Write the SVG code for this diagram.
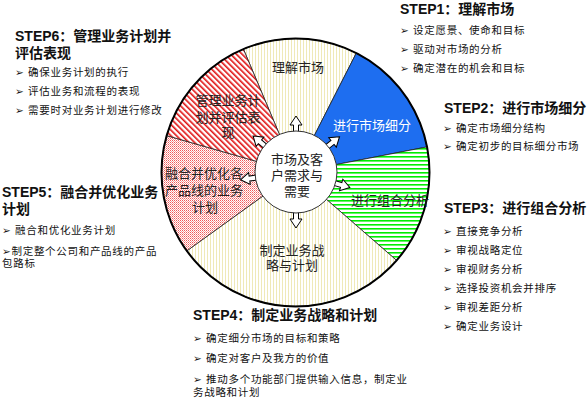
<svg xmlns="http://www.w3.org/2000/svg" width="587" height="401" viewBox="0 0 587 401">
<style>
text{font-family:"Liberation Sans","DejaVu Sans","Noto Sans CJK SC",sans-serif;fill:#111}
.h{font-size:14px;font-weight:bold}
.b{font-size:10.5px;letter-spacing:0.7px}
.s{font-size:13px;text-anchor:middle;fill:#222}
.c{font-size:13px;text-anchor:middle;fill:#222}
.sec{stroke:#222;stroke-width:0.8}
.arr{fill:#fff;stroke:#000;stroke-width:1}
</style>
<defs>
<pattern id="cream" width="3" height="3" patternUnits="userSpaceOnUse"><rect width="3" height="3" fill="#fff"/><rect width="1" height="3" fill="#efe9b8"/></pattern>
<pattern id="green" width="4" height="4" patternUnits="userSpaceOnUse"><rect width="4" height="4" fill="#fff"/><rect width="4" height="1.6" fill="#00ee00"/></pattern>
<pattern id="diag" width="4" height="4" patternUnits="userSpaceOnUse" patternTransform="rotate(-45)"><rect width="4" height="4" fill="#fff"/><rect width="1.6" height="4" fill="#e01010"/></pattern>
<pattern id="check" width="2" height="2" patternUnits="userSpaceOnUse"><rect width="2" height="2" fill="#fff"/><rect width="1" height="1" fill="#f05a5a"/><rect x="1" y="1" width="1" height="1" fill="#f7a0a0"/></pattern>
<polygon id="ar" points="30,-2.5 47,-2.5 47,-6 56,0 47,6 47,2.5 30,2.5"/>
</defs>
<g id="wheel">
<path class="sec" fill="url(#cream)" d="M295.5,172.5 L243.4,49.1 A134,134 0 0 1 356.3,53.1 Z"/>
<path class="sec" fill="#1e6ef0" d="M295.5,172.5 L356.3,53.1 A134,134 0 0 1 427,146.9 Z"/>
<path class="sec" fill="url(#green)" d="M295.5,172.5 L427,146.9 A134,134 0 0 1 396.6,260.4 Z"/>
<path class="sec" fill="url(#cream)" d="M295.5,172.5 L396.6,260.4 A134,134 0 0 1 186.8,250.9 Z"/>
<path class="sec" fill="url(#check)" d="M295.5,172.5 L186.8,250.9 A134,134 0 0 1 166.7,135.6 Z"/>
<path class="sec" fill="url(#diag)" d="M295.5,172.5 L166.7,135.6 A134,134 0 0 1 243.4,49.1 Z"/>
<circle cx="295.5" cy="172.5" r="134" fill="none" stroke="#000" stroke-width="2"/>
</g>
<g id="connectors">
<use href="#ar" class="arr" transform="translate(296,172) rotate(-90)"/>
<use href="#ar" class="arr" transform="translate(296,172) rotate(-39)"/>
<use href="#ar" class="arr" transform="translate(296,172) rotate(16)"/>
<use href="#ar" class="arr" transform="translate(296,172) rotate(90)"/>
<use href="#ar" class="arr" transform="translate(296,172) rotate(172)"/>
<use href="#ar" class="arr" transform="translate(296,172) rotate(-140)"/>
</g>
<g id="hub">
<circle cx="296" cy="172" r="41" fill="#fff" stroke="#333" stroke-width="1"/>
<text class="c" x="297" y="164">市场及客</text>
<text class="c" x="297" y="180">户需求与</text>
<text class="c" x="297" y="196">需要</text>
</g>
<g id="seg1"><text class="s" x="298" y="72">理解市场</text></g>
<g id="seg2"><text class="s" x="372" y="130" style="fill:#fff">进行市场细分</text></g>
<g id="seg3"><text class="s" x="390" y="205">进行组合分析</text></g>
<g id="seg4"><text class="s" x="292" y="255">制定业务战</text><text class="s" x="292" y="270">略与计划</text></g>
<g id="seg5"><text class="s" x="204" y="178">融合并优化各</text><text class="s" x="204" y="195">产品线的业务</text><text class="s" x="205" y="212">计划</text></g>
<g id="seg6"><text class="s" x="228" y="105">管理业务计</text><text class="s" x="228" y="122">划并评估表</text><text class="s" x="228" y="137">现</text></g>
<g id="step1">
<text class="h" x="400" y="14">STEP1：理解市场</text>
<text class="b" x="400" y="34">➢ 设定愿景、使命和目标</text>
<text class="b" x="400" y="53">➢ 驱动对市场的分析</text>
<text class="b" x="400" y="72">➢ 确定潜在的机会和目标</text>
</g>
<g id="step2">
<text class="h" x="444" y="113">STEP2：进行市场细分</text>
<text class="b" x="443" y="132">➢ 确定市场细分结构</text>
<text class="b" x="443" y="150">➢ 确定初步的目标细分市场</text>
</g>
<g id="step3">
<text class="h" x="444" y="213">STEP3：进行组合分析</text>
<text class="b" x="443" y="235">➢ 直接竞争分析</text>
<text class="b" x="443" y="254">➢ 审视战略定位</text>
<text class="b" x="443" y="273">➢ 审视财务分析</text>
<text class="b" x="443" y="292">➢ 选择投资机会并排序</text>
<text class="b" x="443" y="311">➢ 审视差距分析</text>
<text class="b" x="443" y="330">➢ 确定业务设计</text>
</g>
<g id="step4">
<text class="h" x="193" y="320">STEP4：制定业务战略和计划</text>
<text class="b" x="193" y="342">➢ 确定细分市场的目标和策略</text>
<text class="b" x="193" y="362">➢ 确定对客户及我方的价值</text>
<text class="b" x="193" y="383">➢ 推动多个功能部门提供输入信息，制定业</text>
<text class="b" x="193" y="396">务战略和计划</text>
</g>
<g id="step5">
<text class="h" x="2" y="197">STEP5：融合并优化业务</text>
<text class="h" x="2" y="214">计划</text>
<text class="b" x="2" y="234">➢ 融合和优化业务计划</text>
<text class="b" x="2" y="255">➢制定整个公司和产品线的产品</text>
<text class="b" x="2" y="267">包路标</text>
</g>
<g id="step6">
<text class="h" x="15" y="41">STEP6：管理业务计划并</text>
<text class="h" x="15" y="58">评估表现</text>
<text class="b" x="15" y="76">➢ 确保业务计划的执行</text>
<text class="b" x="15" y="95">➢ 评估业务和流程的表现</text>
<text class="b" x="15" y="114">➢ 需要时对业务计划进行修改</text>
</g>
</svg>
